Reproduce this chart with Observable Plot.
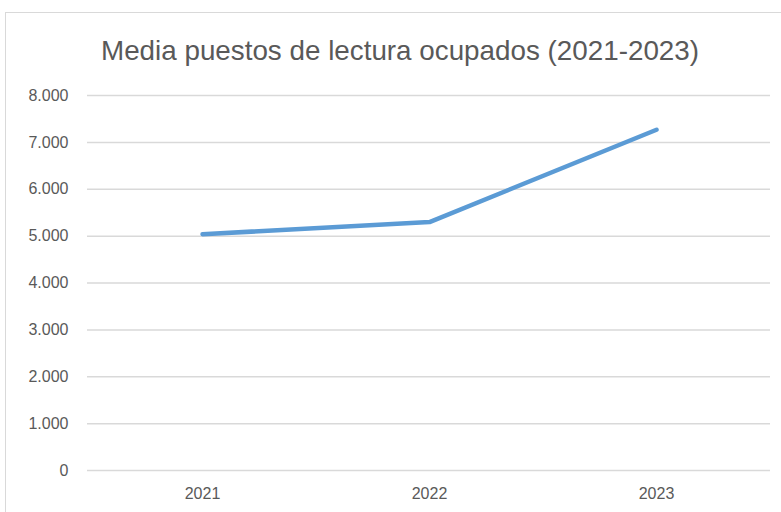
<!DOCTYPE html>
<html><head><meta charset="utf-8">
<script src="https://cdn.jsdelivr.net/npm/d3@7"></script>
<script src="https://cdn.jsdelivr.net/npm/@observablehq/plot@0.6"></script>
<style>
body{margin:0;background:#fff;width:781px;height:512px;overflow:hidden;position:relative;font-family:"Liberation Sans",Arial,sans-serif;}
#frame{position:absolute;left:5px;top:12px;width:820px;height:620px;border:1.5px solid #d9d9d9;box-sizing:border-box;}
#title{position:absolute;left:0;width:800px;top:35px;text-align:center;font-size:27.8px;color:#595959;white-space:nowrap;}
#chart{position:absolute;left:0;top:0;}
</style></head>
<body>
<div id="frame"></div>
<div id="chart"></div>
<div id="title">Media puestos de lectura ocupados (2021-2023)</div>
<script>
const years = ["2021", "2022", "2023"];
const values = [5040, 5300, 7270];
const yTicks = [0, 1000, 2000, 3000, 4000, 5000, 6000, 7000, 8000];

const data = years.map((y, i) => ({year: y, value: values[i]}));
const fmt = d => d === 0 ? "0" : d3.format(",")(d).replace(/,/g, ".");

const chart = Plot.plot({
  width: 781,
  height: 512,
  marginLeft: 87,
  marginRight: 11,
  marginTop: 95,
  marginBottom: 42,
  style: {background: "transparent", fontFamily: "Liberation Sans, Arial, sans-serif", fontSize: "16px", color: "#595959"},
  x: {type: "point", domain: years, padding: 0.5, label: null},
  y: {domain: [0, 8000], label: null},
  marks: [
    Plot.ruleY(yTicks, {stroke: "#d9d9d9", strokeWidth: 1.5}),
    Plot.axisY({ticks: yTicks, tickFormat: fmt, tickSize: 0, tickPadding: 19, fill: "#595959", label: null, fontSize: 16}),
    Plot.axisX({tickSize: 0, tickPadding: 17, fill: "#595959", label: null, fontSize: 16}),
    Plot.line(data, {x: "year", y: "value", stroke: "#5b9bd5", strokeWidth: 4.5, strokeLinecap: "round", strokeLinejoin: "round"})
  ]
});
document.getElementById("chart").appendChild(chart);
</script>
</body></html>
